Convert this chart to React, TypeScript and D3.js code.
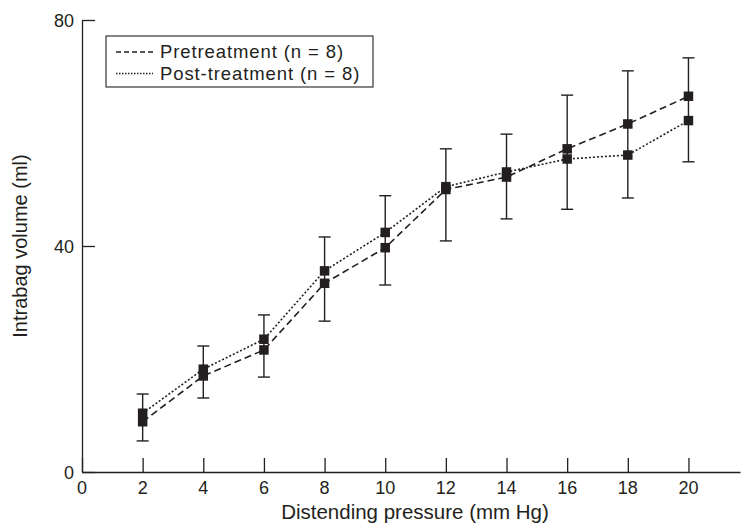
import React, { useEffect, useRef } from 'react';
import * as d3 from 'd3';

// distending pressure (mm Hg)
const pressures = [2, 4, 6, 8, 10, 12, 14, 16, 18, 20];
// intrabag volume (ml)
const pretreatment = [8.9, 17.0, 21.6, 33.4, 39.7, 50.0, 52.2, 57.2, 61.6, 66.5];
const postTreatment = [10.4, 18.2, 23.5, 35.6, 42.4, 50.5, 53.1, 55.4, 56.1, 62.2];
// error bar ends
const errHigh = [13.8, 22.3, 27.8, 41.6, 48.9, 57.2, 59.8, 66.7, 71.0, 73.3];
const errLow = [5.5, 13.1, 16.8, 26.7, 33.1, 40.9, 44.8, 46.5, 48.5, 54.9];

const xTicks = [0, 2, 4, 6, 8, 10, 12, 14, 16, 18, 20];
const yTicks = [0, 40, 80];
const legendLabels = ['Pretreatment (n = 8)', 'Post-treatment (n = 8)'];

const App = () => {
    const ref = useRef<SVGSVGElement>(null);

    useEffect(() => {
        const width = 745,
            height = 525;
        const left = 82,
            right = 740,
            top = 20,
            bottom = 472;
        const ink = '#231f20';
        const font = "'Liberation Sans', Arial, sans-serif";

        const svg = d3.select(ref.current);
        svg.selectAll('*').remove();
        svg.attr('width', width).attr('height', height);

        const x = d3.scaleLinear().domain([0, 21.7]).range([left, right]);
        const y = d3.scaleLinear().domain([0, 80]).range([bottom, top]);

        // x axis, ticks inward
        const xAxis = d3.axisTop(x).tickValues(xTicks).tickSize(14).tickFormat(() => '').tickSizeOuter(0);
        const gx = svg.append('g').attr('transform', `translate(0,${bottom})`).call(xAxis);
        gx.select('.domain').attr('stroke', ink).attr('stroke-width', 1.3);
        gx.selectAll('.tick line').attr('stroke', ink).attr('stroke-width', 1.3);

        svg.append('g')
            .selectAll('text')
            .data(xTicks)
            .enter()
            .append('text')
            .attr('x', d => x(d))
            .attr('y', 494)
            .attr('text-anchor', 'middle')
            .style('font-family', font)
            .style('font-size', '18px')
            .style('fill', ink)
            .text(d => d);

        // y axis, ticks inward
        const yAxis = d3.axisRight(y).tickValues(yTicks).tickSize(13).tickFormat(() => '').tickSizeOuter(0);
        const gy = svg.append('g').attr('transform', `translate(${left},0)`).call(yAxis);
        gy.select('.domain').attr('stroke', ink).attr('stroke-width', 1.3);
        gy.selectAll('.tick line').attr('stroke', ink).attr('stroke-width', 1.3);

        svg.append('g')
            .selectAll('text')
            .data(yTicks)
            .enter()
            .append('text')
            .attr('x', 74)
            .attr('y', d => y(d) + 7)
            .attr('text-anchor', 'end')
            .style('font-family', font)
            .style('font-size', '18px')
            .style('fill', ink)
            .text(d => d);

        // axis titles
        svg.append('text')
            .attr('x', 415)
            .attr('y', 519)
            .attr('text-anchor', 'middle')
            .style('font-family', font)
            .style('font-size', '20.5px')
            .style('fill', ink)
            .text('Distending pressure (mm Hg)');

        svg.append('text')
            .attr('transform', `translate(27,${y(40)}) rotate(-90)`)
            .attr('text-anchor', 'middle')
            .style('font-family', font)
            .style('font-size', '20px')
            .style('fill', ink)
            .text('Intrabag volume (ml)');

        // error bars
        const bars = svg.append('g');
        pressures.forEach((p, i) => {
            bars.append('line')
                .attr('x1', x(p)).attr('x2', x(p))
                .attr('y1', y(errHigh[i])).attr('y2', y(errLow[i]))
                .attr('stroke', ink).attr('stroke-width', 1.4);
            [errHigh[i], errLow[i]].forEach(v => {
                bars.append('line')
                    .attr('x1', x(p) - 6).attr('x2', x(p) + 6)
                    .attr('y1', y(v)).attr('y2', y(v))
                    .attr('stroke', ink).attr('stroke-width', 1.4);
            });
        });

        const line = d3.line<number>()
            .x((d, i) => x(pressures[i]))
            .y(d => y(d));

        svg.append('path')
            .attr('d', line(pretreatment))
            .style('fill', 'none')
            .style('stroke', ink)
            .style('stroke-width', 1.6)
            .style('stroke-dasharray', '7,4');

        svg.append('path')
            .attr('d', line(postTreatment))
            .style('fill', 'none')
            .style('stroke', ink)
            .style('stroke-width', 1.6)
            .style('stroke-dasharray', '2,2');

        // square markers
        const size = 9.5;
        [pretreatment, postTreatment].forEach(series => {
            svg.append('g')
                .selectAll('rect')
                .data(series)
                .enter()
                .append('rect')
                .attr('x', (d, i) => x(pressures[i]) - size / 2)
                .attr('y', d => y(d) - size / 2)
                .attr('width', size)
                .attr('height', size)
                .style('fill', ink);
        });

        // legend
        const legend = svg.append('g');
        legend.append('rect')
            .attr('x', 106).attr('y', 36)
            .attr('width', 267).attr('height', 51)
            .style('fill', 'white')
            .style('stroke', ink)
            .style('stroke-width', 1.1);
        const dashes = ['5,3', '1.5,1.5'];
        legendLabels.forEach((label, i) => {
            const base = 58 + i * 21.5;
            legend.append('line')
                .attr('x1', 116).attr('x2', 153)
                .attr('y1', base - 6).attr('y2', base - 6)
                .attr('stroke', ink).attr('stroke-width', 1.3)
                .attr('stroke-dasharray', dashes[i]);
            legend.append('text')
                .attr('x', 160)
                .attr('y', base)
                .style('font-family', font)
                .style('font-size', '18.5px')
                .style('letter-spacing', '0.9px')
                .style('fill', ink)
                .text(label);
        });
    }, []);

    return <svg ref={ref} style={{ display: 'block', position: 'absolute', left: 0, top: 0 }}></svg>;
};

export default App;
